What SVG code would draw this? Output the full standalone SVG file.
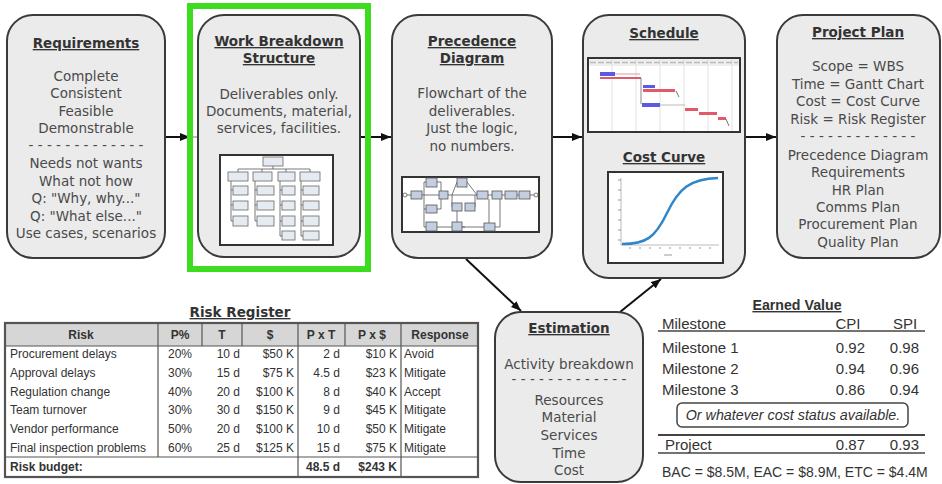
<svg xmlns="http://www.w3.org/2000/svg" width="942" height="484" viewBox="0 0 942 484">
<defs>
<marker id="ah" markerUnits="userSpaceOnUse" markerWidth="11" markerHeight="9" refX="10" refY="4" orient="auto"><path d="M0,0 L10,4 L0,8 z" fill="#111"/></marker>
<style>
.box{fill:#ebebeb;stroke:#3a3a3a;stroke-width:2}
.t{font-family:"DejaVu Sans",Verdana,sans-serif;font-size:13.5px;fill:#4a4a4a;text-anchor:middle}
.h{font-family:"DejaVu Sans",Verdana,sans-serif;font-size:13.5px;font-weight:bold;fill:#333;text-anchor:middle;text-decoration:underline}
.img{fill:#fff;stroke:#333;stroke-width:2}
.sb{fill:#e6ebf2;stroke:#666;stroke-width:0.8}
.pb{fill:#c3cee0;stroke:#555;stroke-width:0.8}
.ln{fill:none;stroke:#555;stroke-width:0.8}
.conn{fill:none;stroke:#111;stroke-width:2;marker-end:url(#ah)}
.r{font-family:"Liberation Sans",Arial,sans-serif;font-size:12px;fill:#333}
.rh{font-family:"Liberation Sans",Arial,sans-serif;font-size:12px;font-weight:bold;fill:#333;text-anchor:middle}
.e{font-family:"Liberation Sans",Arial,sans-serif;font-size:15px;fill:#333}
.it{font-family:"Liberation Sans",Arial,sans-serif;font-size:14.3px;font-style:italic;fill:#333;text-anchor:middle}
.bac{font-family:"Liberation Sans",Arial,sans-serif;font-size:14px;fill:#333}
.tl{stroke:#555;stroke-width:1.2}
</style>
</defs>
<rect width="942" height="484" fill="#fff"/>

<g id="connectors">
<path class="conn" d="M165,137 H190"/>
<path d="M190,137 H198" stroke="#777" stroke-width="1"/>
<path class="conn" d="M360,137 H391"/>
<path class="conn" d="M552,137 H582"/>
<path class="conn" d="M745,137 H776"/>
<path class="conn" d="M466,259 L521,311"/>
<path class="conn" d="M620,312 L661,279"/>
</g>

<g id="requirements">
<rect class="box" x="7" y="15" width="158" height="243" rx="26"/>
<text class="h" x="86" y="48">Requirements</text>
<text class="t" x="86" y="81">Complete</text>
<text class="t" x="86" y="98">Consistent</text>
<text class="t" x="86" y="116">Feasible</text>
<text class="t" x="86" y="133">Demonstrable</text>
<text class="t" x="86" y="150">- - - - - - - - - - - - -</text>
<text class="t" x="86" y="168">Needs not wants</text>
<text class="t" x="86" y="186">What not how</text>
<text class="t" x="86" y="203">Q: "Why, why..."</text>
<text class="t" x="86" y="221">Q: "What else..."</text>
<text class="t" x="86" y="238">Use cases, scenarios</text>
</g>

<g id="wbs">
<rect class="box" x="198" y="15" width="162" height="242" rx="26"/>
<text class="h" x="279" y="46">Work Breakdown</text>
<text class="h" x="279" y="63">Structure</text>
<text class="t" x="279" y="99">Deliverables only.</text>
<text class="t" x="279" y="116">Documents, material,</text>
<text class="t" x="279" y="133">services, facilities.</text>
<rect class="img" x="220" y="155" width="113" height="90"/>
<path class="ln" d="M273,166 V169 M238,169 H310 M238,169 V172 M262,169 V172 M286,169 V172 M310,169 V172 M231,181 V221 M231,190 H233 M231,205 H233 M231,221 H233 M255,181 V221 M255,190 H257 M255,205 H257 M255,221 H257 M280,181 V236 M280,190 H282 M280,205 H282 M280,221 H282 M280,236 H282 M301,181 V236 M301,190 H303 M301,205 H303 M301,221 H303 M301,236 H303"/>
<rect class="sb" x="263" y="157" width="20" height="9"/>
<rect class="sb" x="228" y="172" width="20" height="9"/>
<rect class="sb" x="253" y="172" width="19" height="9"/>
<rect class="sb" x="278" y="172" width="17" height="9"/>
<rect class="sb" x="300" y="172" width="20" height="9"/>
<rect class="sb" x="233" y="186" width="15" height="9"/>
<rect class="sb" x="233" y="201" width="15" height="9"/>
<rect class="sb" x="233" y="216" width="15" height="10"/>
<rect class="sb" x="257" y="186" width="17" height="9"/>
<rect class="sb" x="257" y="201" width="17" height="9"/>
<rect class="sb" x="257" y="216" width="17" height="10"/>
<rect class="sb" x="282" y="186" width="13" height="9"/>
<rect class="sb" x="282" y="201" width="13" height="9"/>
<rect class="sb" x="282" y="216" width="13" height="10"/>
<rect class="sb" x="282" y="231" width="13" height="9"/>
<rect class="sb" x="303" y="186" width="16" height="9"/>
<rect class="sb" x="303" y="201" width="16" height="9"/>
<rect class="sb" x="303" y="216" width="16" height="10"/>
<rect class="sb" x="303" y="231" width="16" height="9"/>
</g>

<g id="highlight">
<rect x="190" y="6" width="178" height="263" fill="none" stroke="#3ddc1f" stroke-width="6"/>
</g>

<g id="precedence">
<rect class="box" x="392" y="15" width="160" height="243" rx="26"/>
<text class="h" x="472" y="46">Precedence</text>
<text class="h" x="472" y="63">Diagram</text>
<text class="t" x="472" y="98">Flowchart of the</text>
<text class="t" x="472" y="116">deliverables.</text>
<text class="t" x="472" y="133">Just the logic,</text>
<text class="t" x="472" y="151">no numbers.</text>
<rect class="img" x="402" y="177" width="137" height="55"/>
<path class="ln" d="M405,195 H536 M424,182 V227 M424,182 H426 M424,209 H426 M424,227 H426 M437,182 H441 V209 H437 M452,195 L457,182 M467,182 L477,195 M452,195 V207 M475,207 V195 M437,227 H484 M457,211 V223 M462,227 H465 M495,227 H500 V195 M489,199 V223"/>
<circle cx="405" cy="195" r="2" fill="#fff" stroke="#555" stroke-width="0.8"/>
<circle cx="536" cy="195" r="2" fill="#fff" stroke="#555" stroke-width="0.8"/>
<rect class="pb" x="411" y="191" width="11" height="8"/>
<rect class="pb" x="439" y="191" width="9" height="8"/>
<rect class="pb" x="477" y="191" width="11" height="8"/>
<rect class="pb" x="492" y="191" width="10" height="8"/>
<rect class="pb" x="505" y="191" width="12" height="8"/>
<rect class="pb" x="519" y="191" width="11" height="8"/>
<rect class="pb" x="426" y="178" width="11" height="9"/>
<rect class="pb" x="457" y="178" width="10" height="9"/>
<rect class="pb" x="426" y="205" width="11" height="8"/>
<rect class="pb" x="452" y="203" width="10" height="8"/>
<rect class="pb" x="465" y="203" width="10" height="8"/>
<rect class="pb" x="426" y="222" width="11" height="9"/>
<rect class="pb" x="452" y="222" width="10" height="9"/>
<rect class="pb" x="484" y="223" width="11" height="8"/>
</g>

<g id="schedule">
<rect class="box" x="583" y="15" width="162" height="263" rx="26"/>
<text class="h" x="664" y="38">Schedule</text>
<rect class="img" x="588" y="58" width="152" height="74"/>
<rect x="589" y="59" width="150" height="7" fill="#eeeeee"/>
<path d="M612,59 V131 M636,59 V131 M660,59 V131 M684,59 V131 M708,59 V131 M732,59 V131" stroke="#e2e2e2" stroke-width="1"/>
<path d="M590,62.5 H738" stroke="#bbb" stroke-width="1.5" stroke-dasharray="6,2"/>
<rect x="600" y="72" width="15" height="4" fill="#5a5ae6"/>
<path d="M615,74 H640" stroke="#d8a0a0" stroke-width="1"/>
<rect x="600" y="77" width="41" height="2" fill="#e05a6a"/>
<path d="M641,78 V104" stroke="#888" stroke-width="1"/>
<rect x="643" y="85" width="12" height="3" fill="#5a5ae6"/>
<rect x="643" y="89" width="32" height="3" fill="#e05a6a"/>
<path d="M676,91 L679,97" stroke="#777" stroke-width="1"/>
<rect x="642" y="103" width="18" height="4" fill="#5a5ae6"/>
<path d="M660,105 H685" stroke="#bbb" stroke-width="1"/>
<rect x="685" y="108" width="13" height="3" fill="#e05a6a"/>
<rect x="699" y="112" width="18" height="3" fill="#e05a6a"/>
<rect x="718" y="117" width="8" height="3" fill="#e05a6a"/>
<path d="M726,119 L729,126" stroke="#777" stroke-width="1"/>
<text class="h" x="664" y="162">Cost Curve</text>
<rect class="img" x="608" y="172" width="115" height="91"/>
<path d="M621,178 V245 H719" fill="none" stroke="#aaa" stroke-width="0.8"/>
<path d="M618,180 H621 M618,190 H621 M618,200 H621 M618,210 H621 M618,220 H621 M618,230 H621 M618,240 H621 M630,247 V249 M640,247 V249 M650,247 V249 M660,247 V249 M670,247 V249 M680,247 V249 M690,247 V249 M700,247 V249 M710,247 V249 M664,255 H672" stroke="#999" stroke-width="1"/>
<path d="M622,244 C646,244 655,238 667,213 C679,188 690,179 718,178" fill="none" stroke="#2f86c8" stroke-width="2.5"/>
</g>

<g id="projectplan">
<rect class="box" x="777" y="15" width="163" height="243" rx="26"/>
<text class="h" x="858" y="37">Project Plan</text>
<text class="t" x="858" y="71">Scope = WBS</text>
<text class="t" x="858" y="89">Time = Gantt Chart</text>
<text class="t" x="858" y="106">Cost = Cost Curve</text>
<text class="t" x="858" y="124">Risk = Risk Register</text>
<text class="t" x="858" y="141">- - - - - - - - - - - - -</text>
<text class="t" x="858" y="160">Precedence Diagram</text>
<text class="t" x="858" y="177">Requirements</text>
<text class="t" x="858" y="195">HR Plan</text>
<text class="t" x="858" y="212">Comms Plan</text>
<text class="t" x="858" y="229">Procurement Plan</text>
<text class="t" x="858" y="247">Quality Plan</text>
</g>

<g id="estimation">
<rect class="box" x="495" y="312" width="148" height="170" rx="26"/>
<text class="h" x="569" y="333">Estimation</text>
<text class="t" x="569" y="369">Activity breakdown</text>
<text class="t" x="569" y="384">- - - - - - - - - - - - -</text>
<text class="t" x="569" y="405">Resources</text>
<text class="t" x="569" y="422">Material</text>
<text class="t" x="569" y="440">Services</text>
<text class="t" x="569" y="458">Time</text>
<text class="t" x="569" y="475">Cost</text>
</g>

<g id="riskregister">
<text class="h" x="240" y="317">Risk Register</text>
<rect x="5" y="323" width="473" height="23" fill="#d6d6d6"/>
<rect x="5" y="323" width="473" height="154" fill="none" stroke="#555" stroke-width="2.2"/>
<path class="tl" d="M5,346 H478 M5,457 H478 M158,323 V457 M202,323 V346 M242,323 V346 M298,323 V477 M345,323 V346 M401,323 V477"/>
<text class="rh" x="81" y="339">Risk</text>
<text class="rh" x="180" y="339">P%</text>
<text class="rh" x="222" y="339">T</text>
<text class="rh" x="270" y="339">$</text>
<text class="rh" x="321" y="339">P x T</text>
<text class="rh" x="372" y="339">P x $</text>
<text class="rh" x="440" y="339">Response</text>
<g class="r">
<text x="10" y="358">Procurement delays</text>
<text x="10" y="377">Approval delays</text>
<text x="10" y="396">Regulation change</text>
<text x="10" y="414">Team turnover</text>
<text x="10" y="433">Vendor performance</text>
<text x="10" y="452">Final inspection problems</text>
<text x="10" y="471" font-weight="bold">Risk budget:</text>
</g>
<g class="r" text-anchor="middle">
<text x="180" y="358">20%</text>
<text x="180" y="377">30%</text>
<text x="180" y="396">40%</text>
<text x="180" y="414">30%</text>
<text x="180" y="433">50%</text>
<text x="180" y="452">60%</text>
</g>
<g class="r" text-anchor="end">
<text x="240" y="358">10 d</text>
<text x="240" y="377">15 d</text>
<text x="240" y="396">20 d</text>
<text x="240" y="414">30 d</text>
<text x="240" y="433">20 d</text>
<text x="240" y="452">25 d</text>
<text x="294" y="358">$50 K</text>
<text x="294" y="377">$75 K</text>
<text x="294" y="396">$100 K</text>
<text x="294" y="414">$150 K</text>
<text x="294" y="433">$100 K</text>
<text x="294" y="452">$125 K</text>
<text x="340" y="358">2 d</text>
<text x="340" y="377">4.5 d</text>
<text x="340" y="396">8 d</text>
<text x="340" y="414">9 d</text>
<text x="340" y="433">10 d</text>
<text x="340" y="452">15 d</text>
<text x="340" y="471" font-weight="bold">48.5 d</text>
<text x="397" y="358">$10 K</text>
<text x="397" y="377">$23 K</text>
<text x="397" y="396">$40 K</text>
<text x="397" y="414">$45 K</text>
<text x="397" y="433">$50 K</text>
<text x="397" y="452">$75 K</text>
<text x="397" y="471" font-weight="bold">$243 K</text>
</g>
<g class="r">
<text x="404" y="358">Avoid</text>
<text x="404" y="377">Mitigate</text>
<text x="404" y="396">Accept</text>
<text x="404" y="414">Mitigate</text>
<text x="404" y="433">Mitigate</text>
<text x="404" y="452">Mitigate</text>
</g>
</g>

<g id="earnedvalue">
<text x="797" y="310" text-anchor="middle" font-family="Liberation Sans, Arial, sans-serif" font-size="14.2" font-weight="bold" fill="#333" text-decoration="underline">Earned Value</text>
<text class="e" x="662" y="329">Milestone</text>
<text class="e" x="848" y="329" text-anchor="middle">CPI</text>
<text class="e" x="905" y="329" text-anchor="middle">SPI</text>
<path d="M658,331 H925" stroke="#444" stroke-width="1.5"/>
<text class="e" x="662" y="353">Milestone 1</text>
<text class="e" x="662" y="374">Milestone 2</text>
<text class="e" x="662" y="395">Milestone 3</text>
<g class="e" text-anchor="end">
<text x="865" y="353">0.92</text>
<text x="865" y="374">0.94</text>
<text x="865" y="395">0.86</text>
<text x="919" y="353">0.98</text>
<text x="919" y="374">0.96</text>
<text x="919" y="395">0.94</text>
<text x="865" y="450">0.87</text>
<text x="919" y="450">0.93</text>
</g>
<rect x="677" y="403" width="231" height="24" rx="5" fill="#fff" stroke="#444" stroke-width="1.5"/>
<text class="it" x="793" y="420">Or whatever cost status available.</text>
<path d="M658,435 H925" stroke="#444" stroke-width="2"/>
<text class="e" x="665" y="450">Project</text>
<path d="M658,453 H925" stroke="#444" stroke-width="1.5"/>
<text class="bac" x="662" y="477">BAC = $8.5M, EAC = $8.9M, ETC = $4.4M</text>
</g>
</svg>
